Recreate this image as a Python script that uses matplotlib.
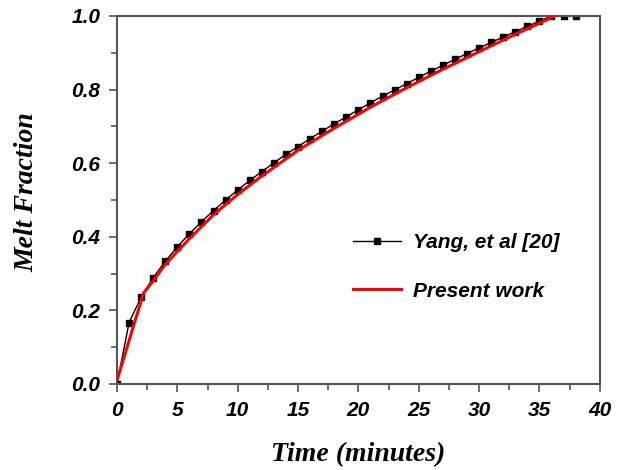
import matplotlib
matplotlib.use("Agg")
import matplotlib.pyplot as plt
from matplotlib.ticker import MultipleLocator

# melt fraction vs time, reference data (one point per minute)
yang_t = list(range(0, 39))
yang_f = [0.0, 0.167, 0.236, 0.289, 0.333, 0.373, 0.408, 0.441, 0.471, 0.500,
          0.527, 0.553, 0.577, 0.601, 0.624, 0.645, 0.667, 0.687, 0.707, 0.726,
          0.745, 0.764, 0.782, 0.799, 0.816, 0.833, 0.850, 0.866, 0.882, 0.898,
          0.913, 0.928, 0.943, 0.957, 0.972, 0.986, 1.0, 1.0, 1.0]

# our simulation
sim_t = [0, 2.2, 3, 4, 5, 6, 8, 10, 12, 15, 18, 21, 24, 27, 30, 33, 36.3]
sim_f = [0.01, 0.247, 0.28, 0.325, 0.36, 0.395, 0.46, 0.515, 0.565, 0.635,
         0.695, 0.752, 0.805, 0.855, 0.903, 0.95, 1.0]

fig = plt.figure(figsize=(6.28, 4.70), dpi=100)
ax = fig.add_axes([0.1863, 0.183, 0.7687, 0.783])

ax.plot(yang_t, yang_f, color="black", lw=1.0, marker="s", markersize=4,
        label="Yang, et al [20]", zorder=2)
ax.plot(sim_t, sim_f, color="red", lw=2.2, label="Present work", zorder=3)

ax.set_xlim(0, 40)
ax.set_ylim(0, 1.0)
ax.xaxis.set_major_locator(MultipleLocator(5))
ax.xaxis.set_minor_locator(MultipleLocator(2.5))
ax.yaxis.set_major_locator(MultipleLocator(0.2))
ax.yaxis.set_minor_locator(MultipleLocator(0.1))
ax.yaxis.set_major_formatter(plt.FormatStrFormatter("%.1f"))

for s in ax.spines.values():
    s.set_color("#555555")
    s.set_linewidth(1.5)

ax.tick_params(which="both", direction="out", color="#555555", width=1.2)
ax.tick_params(which="major", length=6, pad=6)
ax.tick_params(which="minor", length=4)

for lab in ax.get_xticklabels() + ax.get_yticklabels():
    lab.set_family("Liberation Sans")
    lab.set_fontweight("bold")
    lab.set_fontstyle("italic")
    lab.set_fontsize(15)

ax.set_xlabel("Time (minutes)", family="Liberation Serif", fontweight="bold",
              fontstyle="italic", fontsize=20, labelpad=16)
ax.set_ylabel("Melt Fraction", family="Liberation Serif", fontweight="bold",
              fontstyle="italic", fontsize=20)
ax.yaxis.set_label_coords(-0.16, 0.52)

leg = ax.legend(loc="center left", bbox_to_anchor=(0.489, 0.318), frameon=False,
                borderpad=0, borderaxespad=0, handlelength=2.3,
                handletextpad=0.6, labelspacing=1.4,
                prop={"family": "Liberation Sans", "weight": "bold",
                      "style": "italic", "size": 15})

fig.savefig("out.png", dpi=100)
